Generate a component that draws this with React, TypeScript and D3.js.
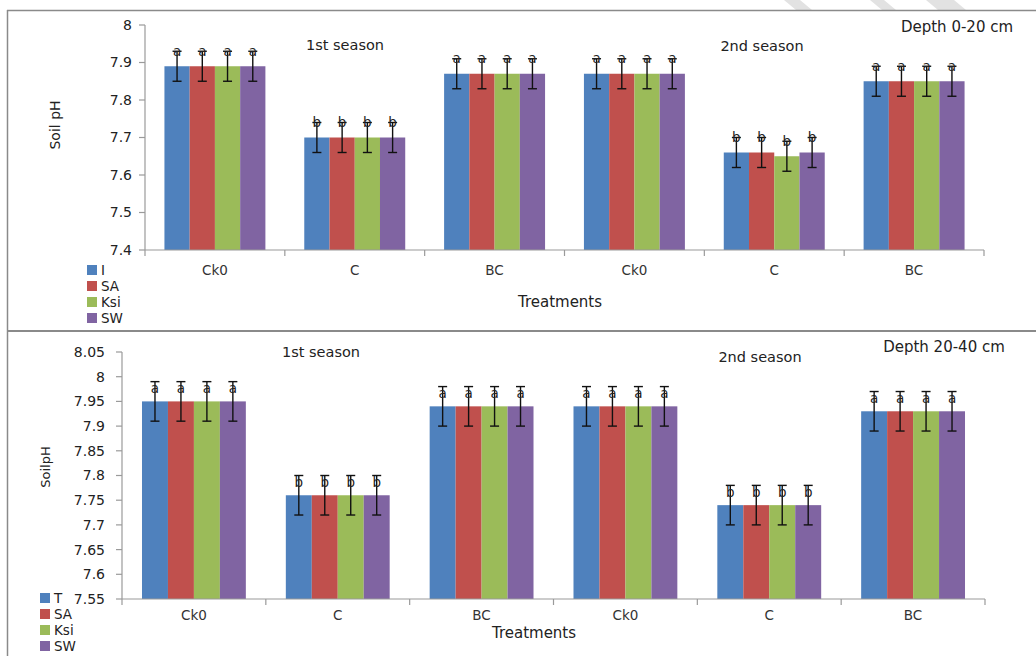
import React from "react";
import * as d3 from "d3";

const categories = ["Ck0", "C", "BC", "Ck0", "C", "BC"];
const seriesTop = ["I", "SA", "Ksi", "SW"];
const seriesBottom = ["T", "SA", "Ksi", "SW"];
const colors = ["#4F81BD", "#C0504D", "#9BBB59", "#8064A2"];

// Depth 0-20 cm
const top_T = [7.89, 7.7, 7.87, 7.87, 7.66, 7.85];
const top_SA = [7.89, 7.7, 7.87, 7.87, 7.66, 7.85];
const top_Ksi = [7.89, 7.7, 7.87, 7.87, 7.65, 7.85];
const top_SW = [7.89, 7.7, 7.87, 7.87, 7.66, 7.85];
const topErr = [0.04, 0.04, 0.04, 0.04, 0.04, 0.04];
const topLetters = ["a", "b", "a", "a", "b", "a"];
const topTicks = [7.4, 7.5, 7.6, 7.7, 7.8, 7.9, 8];
const topTickLabels = ["7.4", "7.5", "7.6", "7.7", "7.8", "7.9", "8"];

// Depth 20-40 cm
const bot_T = [7.95, 7.76, 7.94, 7.94, 7.74, 7.93];
const bot_SA = [7.95, 7.76, 7.94, 7.94, 7.74, 7.93];
const bot_Ksi = [7.95, 7.76, 7.94, 7.94, 7.74, 7.93];
const bot_SW = [7.95, 7.76, 7.94, 7.94, 7.74, 7.93];
const botErr = [0.04, 0.04, 0.04, 0.04, 0.04, 0.04];
const botLetters = ["a", "b", "a", "a", "b", "a"];
const botTicks = [7.55, 7.6, 7.65, 7.7, 7.75, 7.8, 7.85, 7.9, 7.95, 8, 8.05];
const botTickLabels = ["7.55", "7.6", "7.65", "7.7", "7.75", "7.8", "7.85", "7.9", "7.95", "8", "8.05"];

const FONT = "DejaVu Sans, sans-serif";

type PanelProps = {
  values: number[][];
  errs: number[];
  letters: string[];
  series: string[];
  ticks: number[];
  tickLabels: string[];
  domain: [number, number];
  x0: number; x1: number; yTop: number; yBot: number;
  letterOffset: number;
  legendX: number; legendY: number;
  yTitle: string; yTitleX: number; yTitleY: number; yTitleSize: number;
  xTitleX: number; xTitleY: number; catY: number;
  s1: [number, number]; s2: [number, number];
  depth: string; depthPos: [number, number];
  tickLabelGap: number;
};

function Panel(p: PanelProps) {
  const y = d3.scaleLinear().domain(p.domain).range([p.yBot, p.yTop]);
  const x = d3.scaleBand<number>().domain(categories.map((_, i) => i)).range([p.x0, p.x1]).paddingInner(0).paddingOuter(0);
  const step = x.bandwidth();
  const gw = step * 0.722;
  const xs = d3.scaleBand<number>().domain(p.series.map((_, i) => i)).range([(step - gw) / 2, (step + gw) / 2]);
  const axisColor = "#9A9A9A";
  return (
    <g>
      {p.values.map((vals, si) =>
        vals.map((v, ci) => (
          <rect key={`b${si}-${ci}`} x={x(ci)! + xs(si)!} y={y(v)} width={xs.bandwidth()} height={p.yBot - y(v)} fill={colors[si]} />
        ))
      )}
      <line x1={p.x0} x2={p.x0} y1={p.yTop} y2={p.yBot} stroke={axisColor} strokeWidth={1.2} />
      <line x1={p.x0} x2={p.x1} y1={p.yBot} y2={p.yBot} stroke={axisColor} strokeWidth={1.2} />
      {p.ticks.map((t, i) => (
        <g key={`t${i}`}>
          <line x1={p.x0 - 6} x2={p.x0} y1={y(t)} y2={y(t)} stroke={axisColor} strokeWidth={1.2} />
          <text x={p.x0 - p.tickLabelGap} y={y(t)} dy="0.35em" textAnchor="end" fontFamily={FONT} fontSize={14} fill="#222">{p.tickLabels[i]}</text>
        </g>
      ))}
      {d3.range(categories.length + 1).map((i) => {
        const xx = p.x0 + i * step;
        return <line key={`xt${i}`} x1={xx} x2={xx} y1={p.yBot} y2={p.yBot + 6} stroke={axisColor} strokeWidth={1.2} />;
      })}
      {categories.map((c, i) => (
        <text key={`c${i}`} x={x(i)! + step / 2} y={p.catY} dy="0.35em" textAnchor="middle" fontFamily={FONT} fontSize={13.5} fill="#333">{c}</text>
      ))}
      {p.values.map((vals, si) =>
        vals.map((v, ci) => {
          const cx = x(ci)! + xs(si)! + xs.bandwidth() / 2;
          const e = p.errs[ci];
          return (
            <g key={`e${si}-${ci}`} stroke="#111" strokeWidth={1.4}>
              <line x1={cx} x2={cx} y1={y(v + e)} y2={y(v - e)} />
              <line x1={cx - 4.5} x2={cx + 4.5} y1={y(v + e)} y2={y(v + e)} />
              <line x1={cx - 4.5} x2={cx + 4.5} y1={y(v - e)} y2={y(v - e)} />
            </g>
          );
        })
      )}
      {p.values.map((vals, si) =>
        vals.map((v, ci) => {
          const cx = x(ci)! + xs(si)! + xs.bandwidth() / 2;
          return (
            <text key={`l${si}-${ci}`} x={cx} y={y(v) - p.letterOffset} dy="0.35em" textAnchor="middle" fontFamily={FONT} fontSize={13.5} fill="#222">{p.letters[ci]}</text>
          );
        })
      )}
      {p.series.map((s, i) => (
        <g key={`lg${i}`}>
          <rect x={p.legendX} y={p.legendY + i * 16 - 5} width={10} height={10} fill={colors[i]} />
          <text x={p.legendX + 14} y={p.legendY + i * 16} dy="0.35em" fontFamily={FONT} fontSize={13.5} fill="#222">{s}</text>
        </g>
      ))}
      <text transform={`translate(${p.yTitleX},${p.yTitleY}) rotate(-90)`} textAnchor="middle" dy="0.35em" fontFamily={FONT} fontSize={p.yTitleSize} fill="#222">{p.yTitle}</text>
      <text x={p.xTitleX} y={p.xTitleY} dy="0.35em" textAnchor="middle" fontFamily={FONT} fontSize={15} fill="#222">Treatments</text>
      <text x={p.s1[0]} y={p.s1[1]} dy="0.35em" textAnchor="middle" fontFamily={FONT} fontSize={14.5} fill="#222">1st season</text>
      <text x={p.s2[0]} y={p.s2[1]} dy="0.35em" textAnchor="middle" fontFamily={FONT} fontSize={14.5} fill="#222">2nd season</text>
      <text x={p.depthPos[0]} y={p.depthPos[1]} dy="0.35em" textAnchor="middle" fontFamily={FONT} fontSize={15} fill="#222">{p.depth}</text>
    </g>
  );
}

export default function App() {
  return (
    <svg width={1036} height={656} style={{ position: "absolute", left: 0, top: 0, background: "#fff" }}>
      <rect x={0} y={0} width={1036} height={656} fill="#fff" />
      <g fill="#E2E2E2">
        <polygon points="796,10 812,10 800,0 784,0" />
        <polygon points="882,10 896,10 884,0 870,0" />
        <polygon points="938,10 966,10 954,0 926,0" />
      </g>
      <line x1={7} x2={1036} y1={10.5} y2={10.5} stroke="#8A8A8A" strokeWidth={1.5} />
      <line x1={7.5} x2={7.5} y1={10} y2={656} stroke="#8A8A8A" strokeWidth={1.5} />
      <line x1={7} x2={1036} y1={331} y2={331} stroke="#8A8A8A" strokeWidth={2.2} />
      <Panel
        values={[top_T, top_SA, top_Ksi, top_SW]}
        errs={topErr}
        letters={topLetters}
        series={seriesTop}
        ticks={topTicks}
        tickLabels={topTickLabels}
        domain={[7.4, 8]}
        x0={145} x1={984} yTop={25} yBot={250}
        letterOffset={15}
        legendX={87} legendY={270}
        yTitle="Soil pH" yTitleX={55} yTitleY={125} yTitleSize={14}
        xTitleX={560} xTitleY={302} catY={270}
        s1={[345, 45]} s2={[762, 46]}
        depth="Depth 0-20 cm" depthPos={[957, 27]}
        tickLabelGap={13}
      />
      <Panel
        values={[bot_T, bot_SA, bot_Ksi, bot_SW]}
        errs={botErr}
        letters={botLetters}
        series={seriesBottom}
        ticks={botTicks}
        tickLabels={botTickLabels}
        domain={[7.55, 8.05]}
        x0={122} x1={985} yTop={352} yBot={599}
        letterOffset={13}
        legendX={40} legendY={598}
        yTitle="SoilpH" yTitleX={45} yTitleY={467} yTitleSize={13}
        xTitleX={534} xTitleY={633} catY={615}
        s1={[321, 352]} s2={[760, 357]}
        depth="Depth 20-40 cm" depthPos={[944, 347]}
        tickLabelGap={17}
      />
    </svg>
  );
}
